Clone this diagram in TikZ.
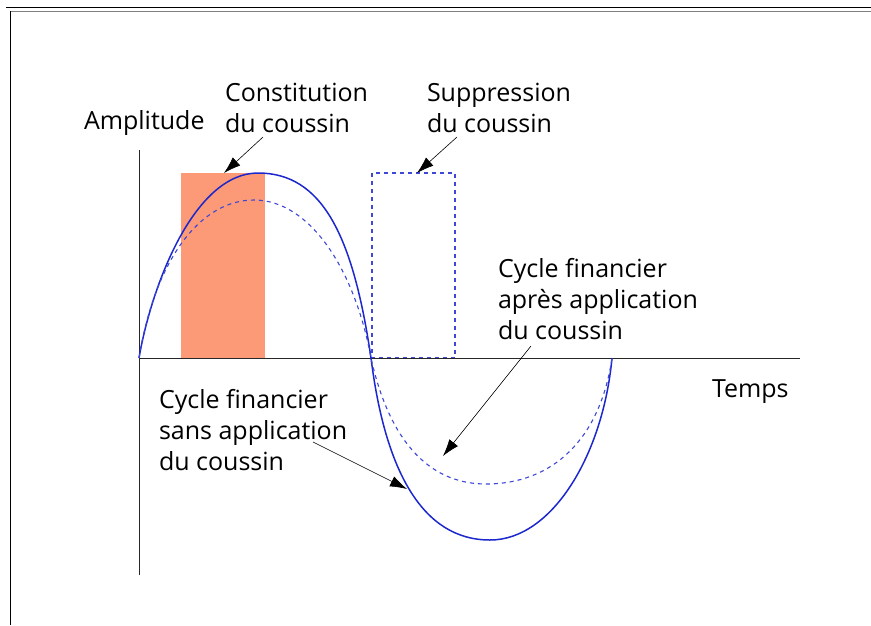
\documentclass[tikz,border=0pt]{standalone}
\usepackage{fontspec}
\setmainfont{Open Sans}
\usetikzlibrary{arrows.meta}

\definecolor{coussin}{RGB}{252,153,118}
\definecolor{cycle}{RGB}{28,40,205}

\begin{document}
\begin{tikzpicture}[x=1pt,y=-1pt] % CYCLE
    \tikzset{%
        label text/.style={inner sep=0pt,outer sep=0pt,anchor=base west,
                align=left,font=\fontsize{25}{31}\selectfont},%
        pointer/.style={-{Latex[length=17pt,width=11pt]},line width=0.6pt},%
        cycle line/.style={cycle,line width=1.5pt},%
        cycle dash/.style={cycle!85!white,line width=1.1pt,dash pattern=on 4pt off 4pt}%
    }
    %% some definitions

    \def\xO{139} % origin of the axes
    \def\yO{358}
    \def\xEnd{612} % end of the cycle

    \useasboundingbox (0,0) rectangle (871,625);

    %% frame

    \draw[line width=1.6pt] (6,7.5) -- (871,7.5);
    \draw[gray,line width=1.5pt] (10.5,11.5) -- (871,11.5);
    \draw[line width=1.1pt] (10.5,11) -- (10.5,625);

    %% buffer boxes

    \fill[coussin] (181,173) rectangle (265,\yO);
    \draw[cycle dash] (372,173) rectangle (455,\yO);

    %% axes

    \draw[black!85,line width=0.9pt] (\xO,150) -- (\xO,575);
    \draw[black!85,line width=0.9pt] (\xO,\yO) -- (800,\yO);

    %% cycles

    \draw[cycle line] (\xO,\yO) .. controls (152,283) and (195,173) .. (258,173)
        .. controls (322,173) and (353,235) .. (371,\yO)
        .. controls (385,470) and (422,540) .. (490,540)
        .. controls (552,540) and (603,455) .. (\xEnd,\yO);
    \draw[cycle dash] (\xO,\yO) .. controls (155,260) and (200,200) .. (254,200)
        .. controls (310,200) and (355,270) .. (371,\yO)
        .. controls (388,435) and (425,484) .. (486,484)
        .. controls (552,484) and (600,440) .. (\xEnd,\yO);

    %% labels (anchored at the baseline of their last line)

    \node[label text] (ampl) at (84,129) {Amplitude};
    \node[label text] (temps) at (712,397) {Temps};
    \node[label text] (constit) at (225,132) {Constitution\\du coussin};
    \node[label text] (suppr) at (427,132) {Suppression\\du coussin};
    \node[label text] (apres) at (498,339) {Cycle financier\\apr\`es application\\du coussin};
    \node[label text] (sans) at (159,470) {Cycle financier\\sans application\\du coussin};

    %% pointers

    \coordinate (constit-s) at (263,137);
    \coordinate (constit-t) at (224,173);
    \coordinate (suppr-s) at (457,137);
    \coordinate (suppr-t) at (417,173);
    \coordinate (apres-s) at (531,346);
    \coordinate (apres-t) at (443,456);
    \coordinate (sans-s) at (313,442);
    \coordinate (sans-t) at (407,489);
    \foreach \lbl in {constit,suppr,apres,sans}
        \draw[pointer] (\lbl-s) -- (\lbl-t);
\end{tikzpicture}
\end{document}
